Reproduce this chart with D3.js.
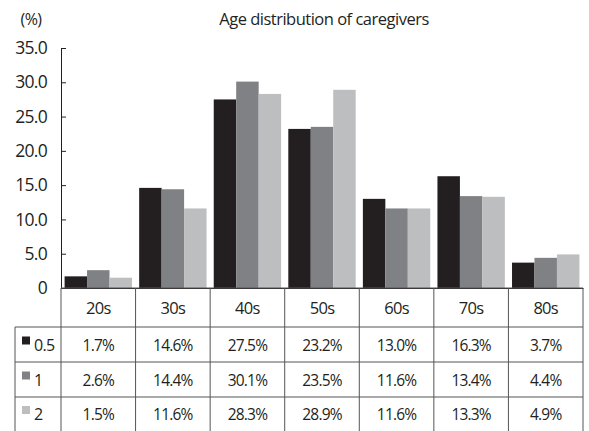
<!DOCTYPE html>
<html><head><meta charset="utf-8">
<script src="https://cdn.jsdelivr.net/npm/d3@7"></script>
<style>body{margin:0;background:#fff}svg{display:block}text{font-family:"Open Sans","Noto Sans",sans-serif;fill:#231f20}</style>
</head><body><div id="chart"></div>
<script>
const categories = ["20s","30s","40s","50s","60s","70s","80s"];
const seriesNames = ["0.5","1","2"];
const s05 = [1.7,14.6,27.5,23.2,13.0,16.3,3.7];
const s1 = [2.6,14.4,30.1,23.5,11.6,13.4,4.4];
const s2 = [1.5,11.6,28.3,28.9,11.6,13.3,4.9];
const yTicks = [0,5,10,15,20,25,30,35];
const colors = ["#231f20","#808184","#bcbec0"];
const seriesValues = [s05,s1,s2];

const W=589,H=431;
const mLeft=61,mRight=583,mTop=48,mBottom=288;
const svg=d3.select("#chart").append("svg").attr("width",W).attr("height",H);

const x=d3.scaleBand().domain(categories).range([mLeft,mRight]).paddingInner(0).paddingOuter(0);
const xs=d3.scaleBand().domain(seriesNames).range([0,x.bandwidth()]).paddingInner(0).paddingOuter(0.16);
const y=d3.scaleLinear().domain([0,35]).range([mBottom,mTop]);

svg.append("text").attr("x",324).attr("y",25).attr("text-anchor","middle").style("font-size","16.5px").style("letter-spacing","-0.5px").text("Age distribution of caregivers");
svg.append("text").attr("x",31).attr("y",25).attr("text-anchor","middle").style("font-size","16px").style("letter-spacing","-0.5px").text("(%)");

// bars
seriesValues.forEach((vals,si)=>{
  svg.append("g").selectAll("rect").data(vals).join("rect")
    .attr("x",(d,i)=>x(categories[i])+xs(seriesNames[si]))
    .attr("y",d=>y(d)).attr("width",xs.bandwidth()).attr("height",d=>y(0)-y(d))
    .attr("fill",colors[si]);
});

// y axis
const yAxis=d3.axisLeft(y).tickValues(yTicks).tickSizeInner(-5).tickSizeOuter(0).tickPadding(14)
  .tickFormat(d=>d===0?"0":d3.format(".1f")(d));
const ga=svg.append("g").attr("transform",`translate(${mLeft},0)`).call(yAxis);
ga.select(".domain").attr("stroke","#231f20");
ga.selectAll(".tick line").attr("stroke","#231f20");
ga.selectAll(".tick text").style("font-size","17.5px").style("letter-spacing","-0.7px").attr("fill","#231f20").attr("font-family",null);

// x axis baseline
const xAxis=d3.axisBottom(x).tickSize(0).tickFormat("");
const gx=svg.append("g").attr("transform",`translate(0,${mBottom})`).call(xAxis);
gx.select(".domain").attr("stroke","#231f20");

// table
const rowTop=[288,327,362,397];
const rowBottom=[327,362,397,431];
const lc="#555";
const tg=svg.append("g");
tg.append("line").attr("x1",mLeft).attr("x2",mRight).attr("y1",288).attr("y2",288).attr("stroke",lc);
[327,362,397].forEach(yy=>tg.append("line").attr("x1",15).attr("x2",mRight).attr("y1",yy).attr("y2",yy).attr("stroke",lc));
categories.forEach(c=>tg.append("line").attr("x1",x(c)).attr("x2",x(c)).attr("y1",288).attr("y2",H).attr("stroke",lc));
tg.append("line").attr("x1",mRight).attr("x2",mRight).attr("y1",288).attr("y2",H).attr("stroke",lc);
tg.append("line").attr("x1",15).attr("x2",15).attr("y1",327).attr("y2",H).attr("stroke",lc);

tg.selectAll("text.h").data(categories).join("text").attr("class","h")
  .attr("x",d=>x(d)+x.bandwidth()/2).attr("y",314).attr("text-anchor","middle")
  .style("font-size","16.5px").style("letter-spacing","-0.7px").text(d=>d);
seriesValues.forEach((vals,si)=>{
  const cy=(rowTop[si+1]+rowBottom[si+1])/2;
  tg.append("rect").attr("x",22).attr("y",cy-8).attr("width",8).attr("height",8).attr("fill",colors[si]);
  tg.append("text").attr("x",34).attr("y",cy+6).style("font-size","16px").style("letter-spacing","-0.7px").text(seriesNames[si]);
  tg.selectAll("text.v"+si).data(vals).join("text").attr("class","v"+si)
    .attr("x",(d,i)=>x(categories[i])+x.bandwidth()/2).attr("y",cy+6).attr("text-anchor","middle")
    .style("font-size","15.5px").style("letter-spacing","-0.8px").text(d=>d.toFixed(1)+"%");
});
</script></body></html>
